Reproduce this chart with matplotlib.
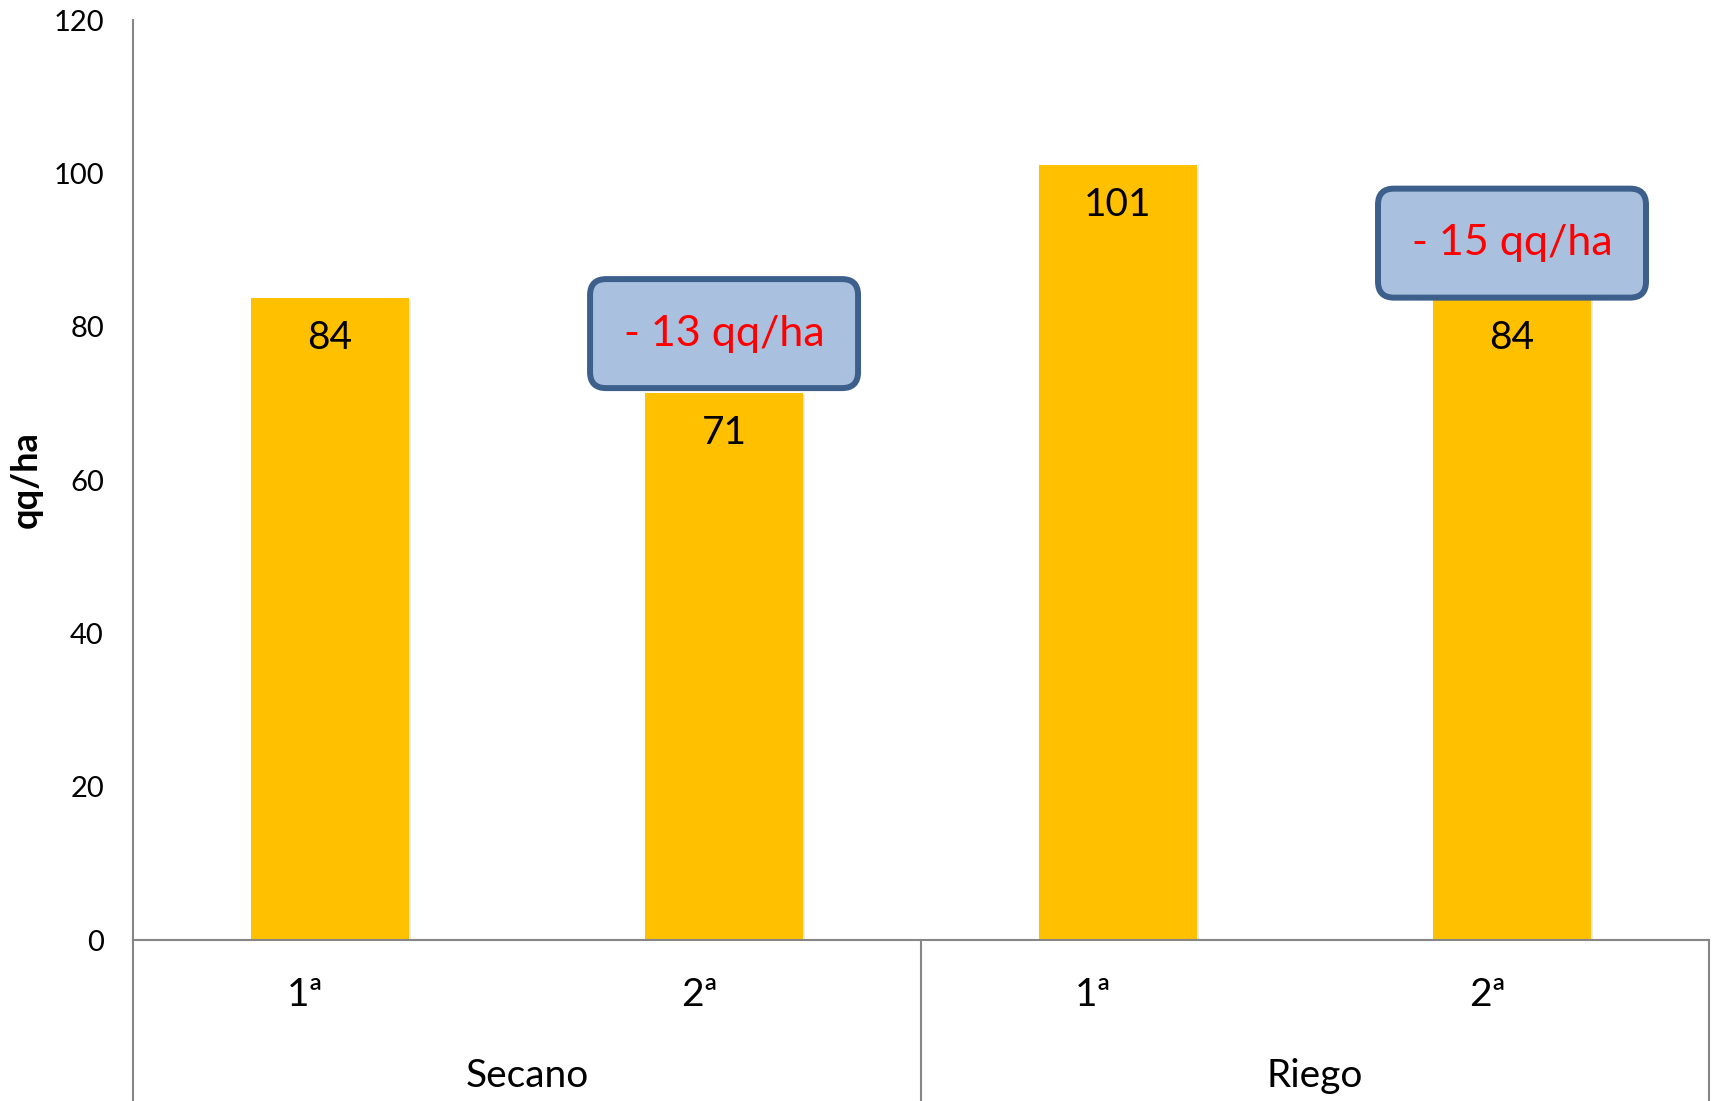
import matplotlib
matplotlib.use("Agg")
import matplotlib.pyplot as plt
import matplotlib.patheffects as pe
from matplotlib.patches import FancyBboxPatch
from matplotlib.transforms import ScaledTranslation

plt.rcParams['font.family'] = ['Lato', 'DejaVu Sans']

# --- datos ---
siembras = ["1ª", "2ª", "1ª", "2ª"]
grupos = ["Secano", "Riego"]
rendimiento = [83.8, 71.4, 101.1, 83.8]
diferencias = ["- 13 qq/ha", "- 15 qq/ha"]
dif_pos = [1, 3]          # barra sobre la que va cada recuadro
dif_y = [79.1, 90.9]      # centro del recuadro (qq/ha)
yticks = [0, 20, 40, 60, 80, 100, 120]

amarillo = "#FFC000"
gris = "#868686"

fig = plt.figure(figsize=(17.15, 11.01), dpi=100)
ax = fig.add_axes([0.0776, 0.1462, 0.9189, 0.8356])

x = list(range(len(rendimiento)))
bars = ax.bar(x, rendimiento, width=0.40, color=amarillo, zorder=2)
for b in bars:
    b.set_path_effects([pe.SimplePatchShadow(offset=(1.5, -1.5), shadow_rgbFace="#BBBBBB", alpha=0.3),
                        pe.Normal()])

# etiquetas de valor dentro de la barra
for xi, v in zip(x, rendimiento):
    ax.annotate(f"{v:.0f}", (xi, v), xytext=(0, -29), textcoords="offset points",
                ha="center", va="center", fontsize=28, color="black", zorder=4)

ax.set_xlim(-0.5, 3.5)
ax.set_ylim(0, 120)
ax.set_yticks(yticks)
ax.tick_params(axis="y", length=0, pad=21, labelsize=21, labelcolor="black")
ax.set_xticks([])

for s in ["top", "right"]:
    ax.spines[s].set_visible(False)
for s in ["left", "bottom"]:
    ax.spines[s].set_color(gris)
    ax.spines[s].set_linewidth(1.5)

ax.text(-0.068, 0.5, "qq/ha", transform=ax.transAxes, rotation=90,
        ha="center", va="center", fontsize=26, fontweight="bold")

# etiquetas de categoria en dos niveles
tr = ax.get_xaxis_transform()
for xi, lab in zip(x, siembras):
    ax.text(xi - 0.063, -0.0598, lab, transform=tr, ha="center", va="center",
            fontsize=28, clip_on=False)
for gi, g in enumerate(grupos):
    ax.text(gi * 2 + 0.5, -0.148, g, transform=tr, ha="center", va="center",
            fontsize=28, clip_on=False)
for xs in [-0.5, 1.5, 3.5]:
    ax.plot([xs, xs], [0, -0.18], transform=tr, color=gris, lw=1.5, clip_on=False)

# recuadros con la diferencia
bw, bh = 2.68, 1.09
for xi, yc, txt in zip(dif_pos, dif_y, diferencias):
    trans = fig.dpi_scale_trans + ScaledTranslation(xi, yc, ax.transData)
    box = FancyBboxPatch((-bw / 2, -bh / 2), bw, bh,
                         boxstyle="round,pad=0,rounding_size=0.16",
                         transform=trans, facecolor="#A9C1DF", edgecolor="#3C5F8C",
                         linewidth=4.3, zorder=5, clip_on=False)
    ax.add_patch(box)
    ax.text(xi, yc, txt, ha="center", va="center", fontsize=31, color="#FF0000", zorder=6)

fig.savefig("out.png", dpi=100)
